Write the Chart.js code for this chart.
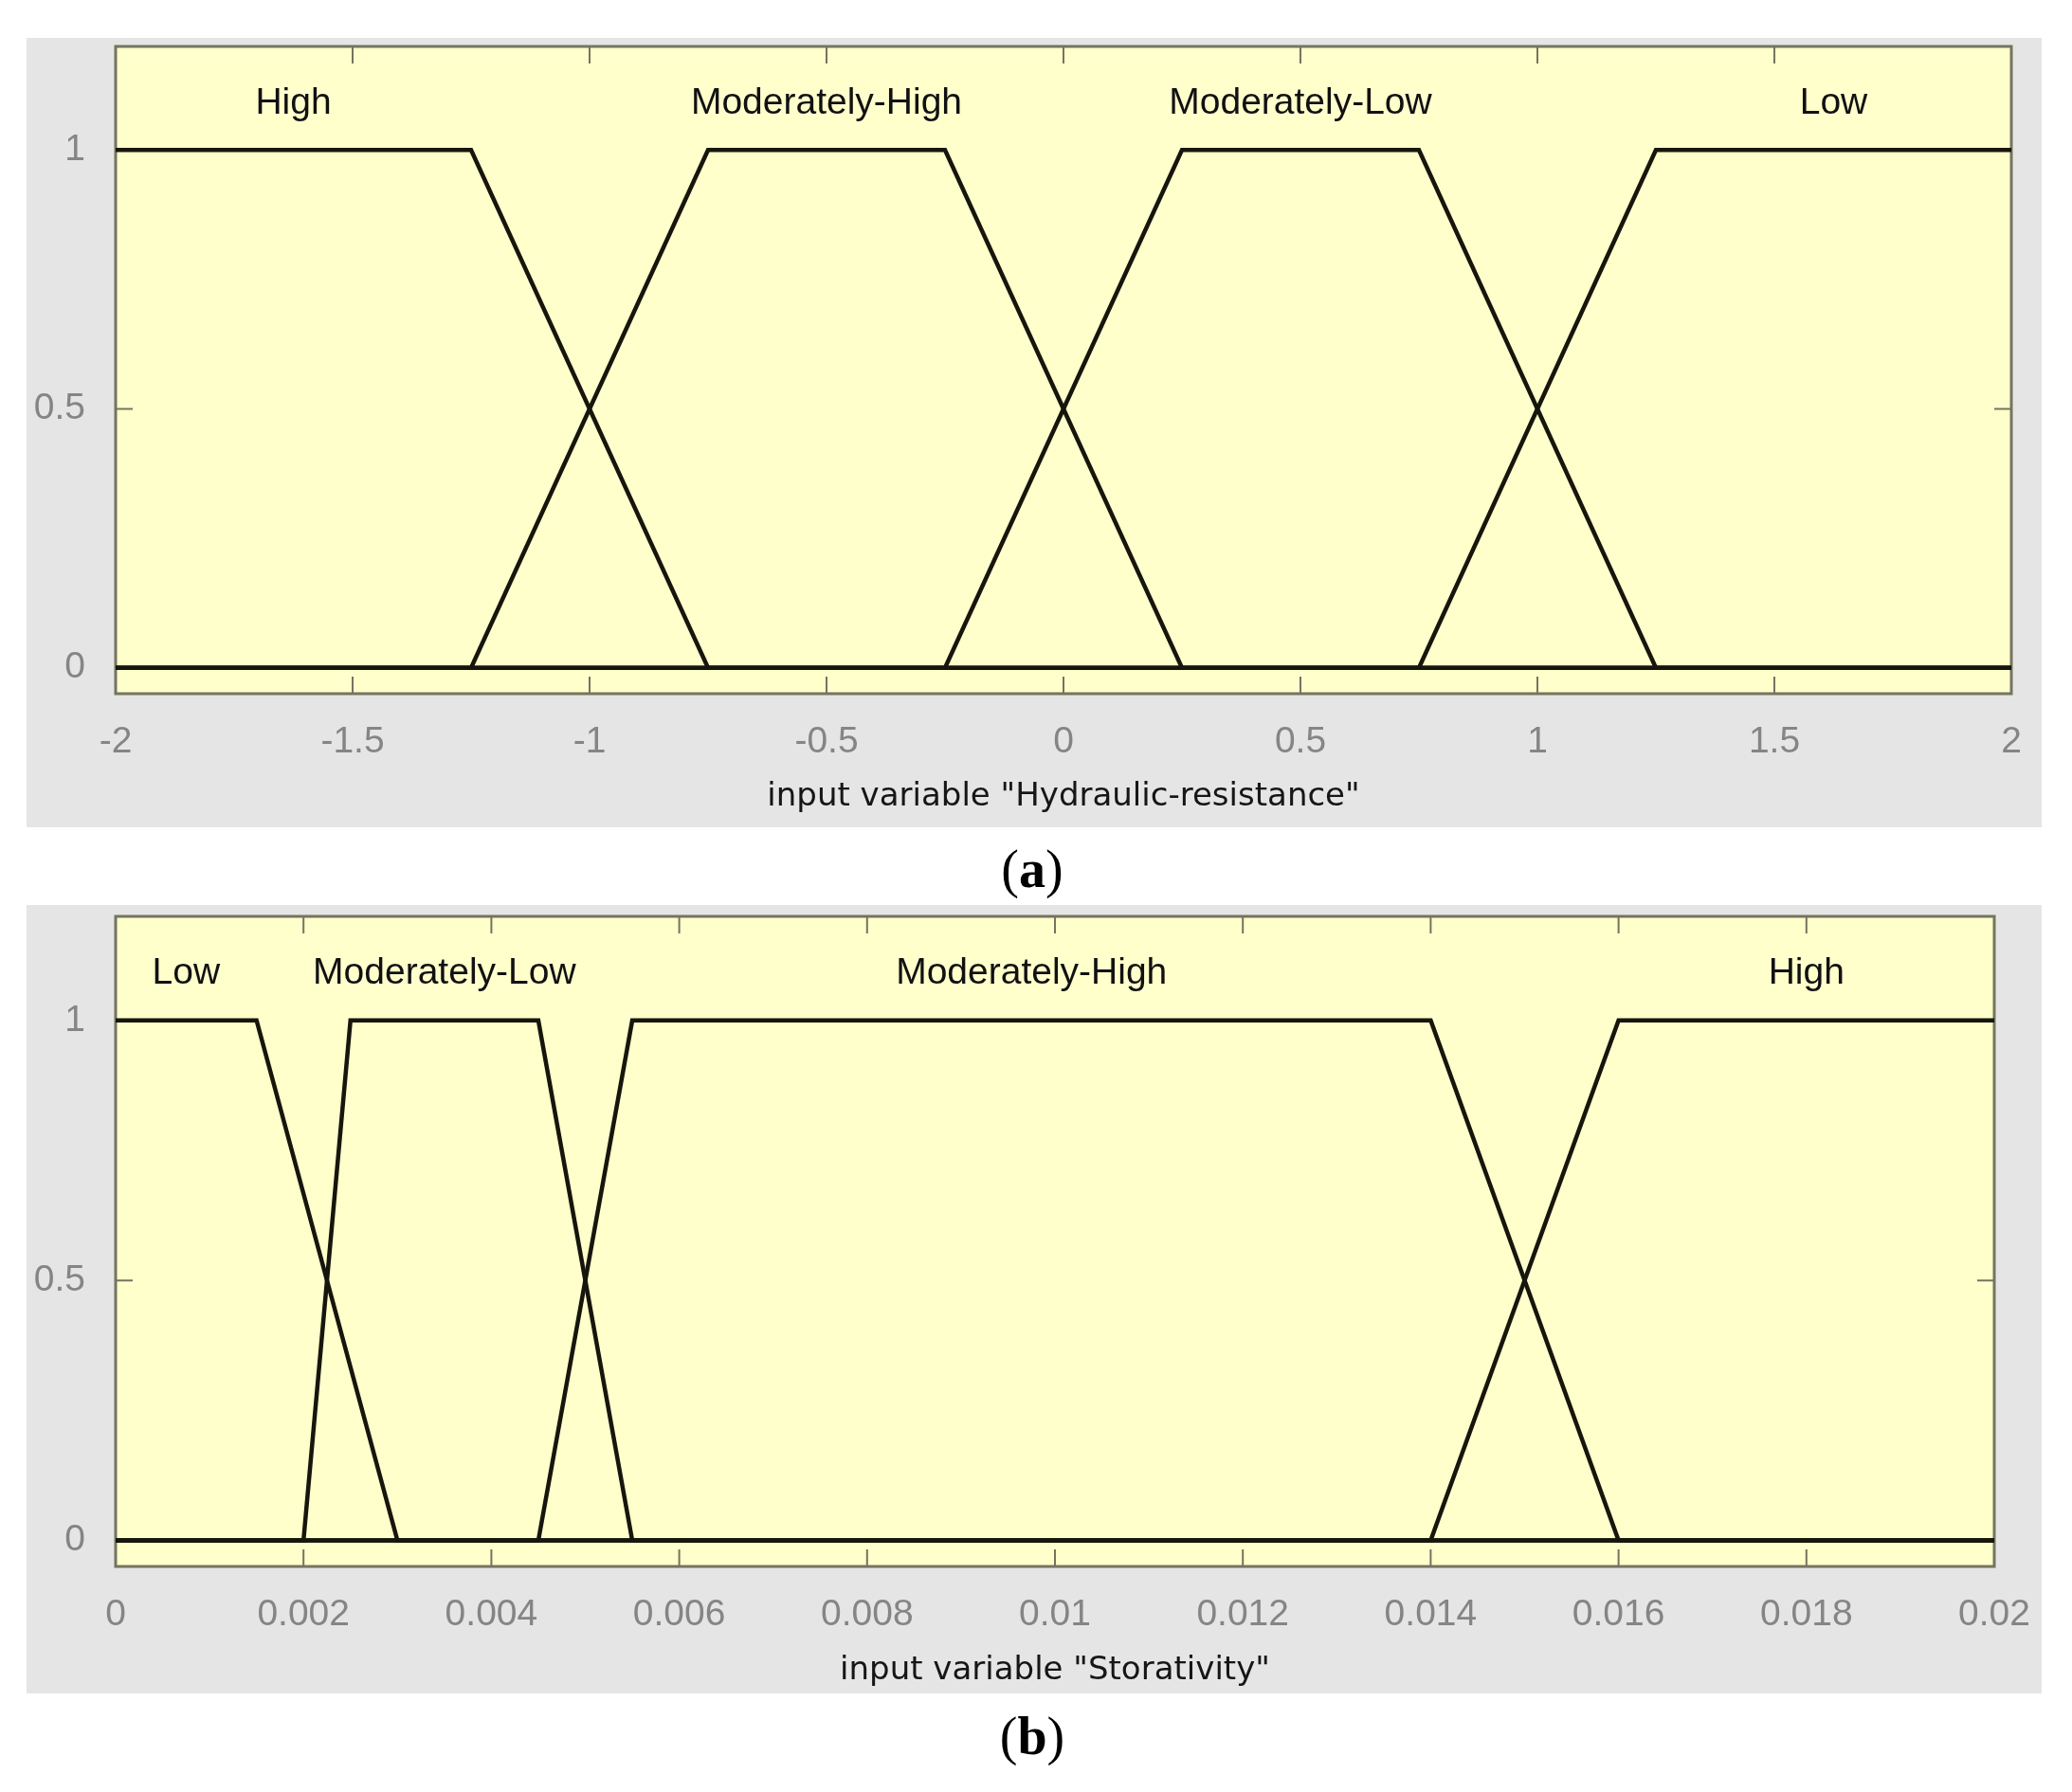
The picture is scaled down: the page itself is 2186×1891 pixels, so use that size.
<!DOCTYPE html>
<html>
<head>
<meta charset="utf-8">
<script src="https://cdn.jsdelivr.net/npm/chart.js@4.4.1/dist/chart.umd.min.js"></script>
<style>
  html, body { margin: 0; padding: 0; background: #fff; }
  body { width: 2186px; height: 1891px; position: relative; overflow: hidden; }
  .panel { position: absolute; left: 28px; width: 2126px; background: #e5e5e5; }
  .caption { position: absolute; left: 0; width: 2178px; text-align: center;
    font-family: "Liberation Serif", serif; font-size: 56px; line-height: 56px; color: #000; }
</style>
</head>
<body>
<div class="panel" style="top:40px;height:833px"><canvas id="chartA"></canvas></div>
<div class="caption" style="top:889px">(<b>a</b>)</div>
<div class="panel" style="top:955px;height:832px"><canvas id="chartB"></canvas></div>
<div class="caption" style="top:1804px">(<b>b</b>)</div>
<script>
// membership function names (label order, left to right)
const hrNames = ["High", "Moderately-High", "Moderately-Low", "Low"];
const stNames = ["Low", "Moderately-Low", "Moderately-High", "High"];

// panel (a) Hydraulic-resistance, trapezoid corner points
const hrHighX = [-2, -1.25, -0.75, 2];
const hrHighY = [1, 1, 0, 0];
const hrModHighX = [-2, -1.25, -0.75, -0.25, 0.25, 2];
const hrModHighY = [0, 0, 1, 1, 0, 0];
const hrModLowX = [-2, -0.25, 0.25, 0.75, 1.25, 2];
const hrModLowY = [0, 0, 1, 1, 0, 0];
const hrLowX = [-2, 0.75, 1.25, 2];
const hrLowY = [0, 0, 1, 1];
const hrLabelX = [-1.625, -0.5, 0.5, 1.625];

// panel (b) Storativity
const stLowX = [0, 0.0015, 0.003, 0.02];
const stLowY = [1, 1, 0, 0];
const stModLowX = [0, 0.002, 0.0025, 0.0045, 0.0055, 0.02];
const stModLowY = [0, 0, 1, 1, 0, 0];
const stModHighX = [0, 0.0045, 0.0055, 0.014, 0.016, 0.02];
const stModHighY = [0, 0, 1, 1, 0, 0];
const stHighX = [0, 0.014, 0.016, 0.02];
const stHighY = [0, 0, 1, 1];
const stLabelX = [0.00075, 0.0035, 0.00975, 0.018];

// ticks
const hrTicks = [-2, -1.5, -1, -0.5, 0, 0.5, 1, 1.5, 2];
const hrTickLabels = ["-2", "-1.5", "-1", "-0.5", "0", "0.5", "1", "1.5", "2"];
const stTicks = [0, 0.002, 0.004, 0.006, 0.008, 0.01, 0.012, 0.014, 0.016, 0.018, 0.02];
const stTickLabels = ["0", "0.002", "0.004", "0.006", "0.008", "0.01", "0.012", "0.014", "0.016", "0.018", "0.02"];
const yTicks = [0, 0.5, 1];
const yTickLabels = ["0", "0.5", "1"];

Chart.defaults.font.family = "Liberation Sans";

function pts(xs, ys) {
  return xs.map((x, i) => ({ x: x, y: ys[i] }));
}

// scales should not push the plot box around
function noPad(s) {
  s.paddingTop = 0; s.paddingBottom = 0;
  s.paddingLeft = 0; s.paddingRight = 0;
}

// yellow plot area, box and inward ticks under the lines, MF names on top
const mfFrame = {
  id: "mfFrame",
  beforeDatasetsDraw(chart) {
    const { ctx, chartArea: a } = chart;
    const x = chart.scales.x, y = chart.scales.y;
    ctx.save();
    ctx.fillStyle = "#ffffcc";
    ctx.fillRect(a.left, a.top, a.width, a.height);

    ctx.strokeStyle = "#74745f";
    ctx.lineWidth = 2;
    ctx.beginPath();
    x.ticks.forEach(t => {
      const px = x.getPixelForValue(t.value);
      ctx.moveTo(px, a.top); ctx.lineTo(px, a.top + 18);
      ctx.moveTo(px, a.bottom); ctx.lineTo(px, a.bottom - 18);
    });
    y.ticks.forEach(t => {
      const py = y.getPixelForValue(t.value);
      ctx.moveTo(a.left, py); ctx.lineTo(a.left + 18, py);
      ctx.moveTo(a.right, py); ctx.lineTo(a.right - 18, py);
    });
    ctx.stroke();
    ctx.lineWidth = 3;
    ctx.strokeRect(a.left, a.top, a.width, a.height);
    ctx.restore();
  },
  afterDraw(chart, args, opts) {
    const { ctx } = chart;
    const x = chart.scales.x, y = chart.scales.y;
    ctx.save();
    ctx.fillStyle = "#111";
    ctx.font = '39px "Liberation Sans"';
    ctx.textAlign = "center";
    ctx.textBaseline = "alphabetic";
    opts.names.forEach((n, i) => {
      ctx.fillText(n, x.getPixelForValue(opts.labelX[i]), y.getPixelForValue(1.1) + 16);
    });
    ctx.restore();
  }
};

function makeChart(id, o) {
  const line = { borderColor: "#16160c", borderWidth: 4.5, pointRadius: 0, tension: 0, fill: false };
  return new Chart(document.getElementById(id), {
    type: "line",
    data: { datasets: o.series.map(s => Object.assign({ label: s.name, data: s.data }, line)) },
    options: {
      responsive: true,
      maintainAspectRatio: false,
      animation: false,
      devicePixelRatio: 1,
      layout: { padding: { left: 0, top: o.padTop, right: o.padRight, bottom: 0 } },
      plugins: {
        legend: { display: false },
        tooltip: { enabled: false },
        mfFrame: { names: o.names, labelX: o.labelX }
      },
      scales: {
        x: {
          type: "linear", min: o.xMin, max: o.xMax,
          afterBuildTicks: s => { s.ticks = o.ticks.map(v => ({ value: v })); },
          afterFit: s => { s.height = o.xHeight; noPad(s); },
          grid: { display: false },
          border: { display: false },
          ticks: {
            callback: (v, i) => o.tickLabels[i],
            color: "#858585", font: { size: 39 }, padding: 20,
            maxRotation: 0, autoSkip: false
          },
          title: {
            display: true, text: o.title, color: "#161616",
            font: { family: "DejaVu Sans", size: 34 },
            padding: { top: 0, bottom: o.titlePad }
          }
        },
        y: {
          type: "linear", min: -0.05, max: 1.2,
          afterBuildTicks: s => { s.ticks = yTicks.map(v => ({ value: v })); },
          afterFit: s => { s.width = 94; noPad(s); },
          grid: { display: false },
          border: { display: false },
          ticks: {
            callback: (v, i) => yTickLabels[i],
            color: "#858585", font: { size: 39 }, padding: 24
          }
        }
      }
    },
    plugins: [mfFrame]
  });
}

makeChart("chartA", {
  series: [
    { name: hrNames[0], data: pts(hrHighX, hrHighY) },
    { name: hrNames[1], data: pts(hrModHighX, hrModHighY) },
    { name: hrNames[2], data: pts(hrModLowX, hrModLowY) },
    { name: hrNames[3], data: pts(hrLowX, hrLowY) }
  ],
  names: hrNames, labelX: hrLabelX,
  xMin: -2, xMax: 2, ticks: hrTicks, tickLabels: hrTickLabels,
  title: 'input variable "Hydraulic-resistance"',
  padTop: 9, padRight: 32, xHeight: 141, titlePad: 11
});

makeChart("chartB", {
  series: [
    { name: stNames[0], data: pts(stLowX, stLowY) },
    { name: stNames[1], data: pts(stModLowX, stModLowY) },
    { name: stNames[2], data: pts(stModHighX, stModHighY) },
    { name: stNames[3], data: pts(stHighX, stHighY) }
  ],
  names: stNames, labelX: stLabelX,
  xMin: 0, xMax: 0.02, ticks: stTicks, tickLabels: stTickLabels,
  title: 'input variable "Storativity"',
  padTop: 12, padRight: 50, xHeight: 134, titlePad: 3
});
</script>
</body>
</html>
